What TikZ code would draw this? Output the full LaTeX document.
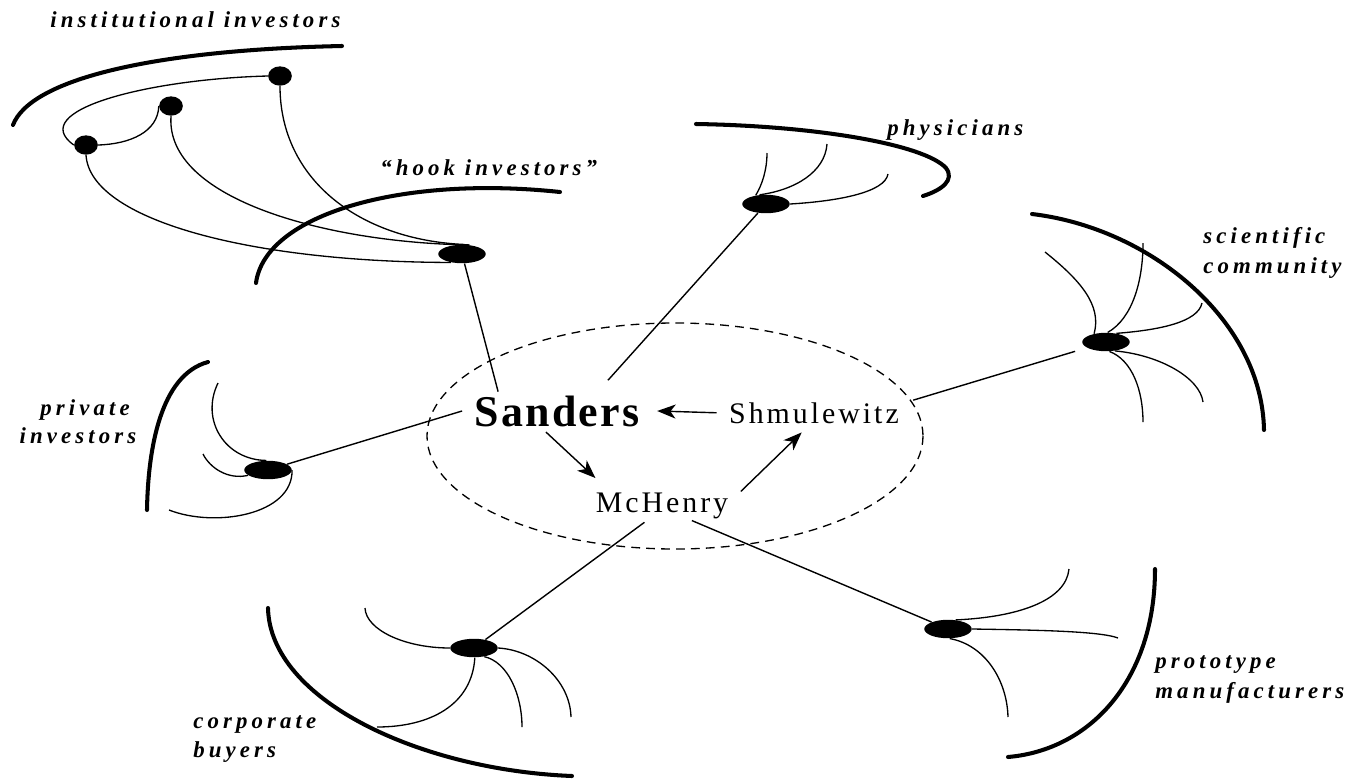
\documentclass[tikz,border=0pt]{standalone}
\usepackage{fontspec}
\setmainfont{Liberation Serif}
\newfontfamily\groupfont[LetterSpace=18]{Liberation Serif}
\newfontfamily\namefont[LetterSpace=10]{Liberation Serif}
\newfontfamily\bossfont[LetterSpace=5]{Liberation Serif}
\usetikzlibrary{arrows.meta}
\usetikzlibrary{shapes}

\begin{document}
\begin{tikzpicture}[x = 0.02cm, y = -0.02cm]
\tikzstyle{HubStyle}=[shape = ellipse,
                      fill,
                      minimum width = 27pt,
                      minimum height = 10.5pt,
                      inner sep = 0pt]
\tikzstyle{DotStyle}=[shape = ellipse, fill, minimum width = 13.5pt, minimum height = 11pt, inner sep = 0pt]
\tikzstyle{GroupStyle}=[font = \groupfont\bfseries\itshape\fontsize{13}{16}\selectfont, inner sep = 0pt]
\tikzstyle{NameStyle}=[font = \namefont\fontsize{17}{20}\selectfont, inner sep = 0pt]
\tikzstyle{BossStyle}=[font = \bossfont\bfseries\fontsize{25}{30}\selectfont, inner sep = 0pt]
\tikzstyle{EdgeStyle}=[line width = 0.8pt]
\tikzstyle{FiberStyle}=[line width = 0.75pt]
\tikzstyle{RimStyle}=[line width = 2.3pt, line cap = round]
\tikzstyle{ArrowStyle}=[line width = 0.8pt, -{Stealth[length = 10.5pt, width = 8pt, inset = 3pt]}]
\tikzstyle{CoreStyle}=[line width = 0.75pt, dash pattern = on 5pt off 3.5pt]

\useasboundingbox (0,0) rectangle (1353,778);

\node[BossStyle, anchor = base] (san) at (557,426) {Sanders};
\node[NameStyle, anchor = base] (shm) at (814,423) {Shmulewitz};
\node[NameStyle, anchor = base] (mch) at (662,512) {McHenry};
\draw[CoreStyle] (675,436) ellipse [x radius = 248, y radius = 113];
\draw[ArrowStyle] ([xshift = -7pt]shm.west) -- ([xshift = 10pt]san.east);
\draw[ArrowStyle] ([yshift = -3pt]san.235) -- ([yshift = 8pt]mch.north west);
\draw[ArrowStyle] ([xshift = 7pt, yshift = 8pt]mch.east) -- ([xshift = -7pt, yshift = -5pt]shm.south);

\node[HubStyle] (hook) at (462,254) {};
\node[HubStyle] (phys) at (766,204) {};
\node[HubStyle] (sci) at (1106,342) {};
\node[HubStyle] (priv) at (268,470) {};
\node[HubStyle] (corp) at (474,648) {};
\node[HubStyle] (proto) at (948,629) {};
\node[DotStyle] (d1) at (280,76) {};
\node[DotStyle] (d2) at (171,106) {};
\node[DotStyle] (d3) at (86,145) {};

\node[GroupStyle, anchor = base west] (instL) at (50,27) {institutional investors};
\node[GroupStyle, anchor = base west] (hookL) at (380,175) {“hook investors”};
\node[GroupStyle, anchor = base west] (physL) at (887,135) {physicians};
\node[GroupStyle, anchor = base west] (sciL1) at (1203,243) {scientific};
\node[GroupStyle, anchor = base west] (sciL2) at (1203,273) {community};
\node[GroupStyle, anchor = base] (privL1) at (85,415) {private};
\node[GroupStyle, anchor = base] (privL2) at (78,443) {investors};
\node[GroupStyle, anchor = base west] (corpL1) at (193,728) {corporate};
\node[GroupStyle, anchor = base west] (corpL2) at (193,757) {buyers};
\node[GroupStyle, anchor = base west] (protoL1) at (1155,668) {prototype};
\node[GroupStyle, anchor = base west] (protoL2) at (1155,698) {manufacturers};

\draw[RimStyle] (13,125) .. controls (30,80) and (150,50) .. (342,46);
\draw[RimStyle] (256,283) .. controls (265,215) and (400,175) .. (560,192);
\draw[RimStyle] (696,124) .. controls (820,126) and (925,145) .. (946,168) .. controls (955,180) and (942,190) .. (923,196);
\draw[RimStyle] (1032,214) .. controls (1150,228) and (1262,320) .. (1264,430);
\draw[RimStyle] (208,362) .. controls (160,375) and (148,450) .. (147,510);
\draw[RimStyle] (268,608) .. controls (270,700) and (420,770) .. (572,776);
\draw[RimStyle] (1155,569) .. controls (1155,680) and (1090,750) .. (1008,757);

\draw[FiberStyle] (d1.west) .. controls (150,79) and (25,110) .. (d3.west);
\draw[FiberStyle] (d3.east) .. controls (130,144) and (158,132) .. (d2.west);
\draw[FiberStyle] (d3.south) .. controls (90,220) and (250,262) .. (hook.217);
\draw[FiberStyle] (d2.south) .. controls (165,200) and (330,243) .. (hook.50);
\draw[FiberStyle] (d1.south) .. controls (280,180) and (360,240) .. (hook.75);

\draw[FiberStyle] (phys.140) .. controls (762,185) and (767,170) .. (767,153);
\draw[FiberStyle] (phys.125) .. controls (795,190) and (825,172) .. (827,144);
\draw[FiberStyle] (phys.east) .. controls (840,201) and (885,192) .. (888,174);
\draw[FiberStyle] (sci.145) .. controls (1102,305) and (1080,280) .. (1045,252);
\draw[FiberStyle] (sci.80) .. controls (1133,318) and (1143,280) .. (1143,243);
\draw[FiberStyle] (sci.40) .. controls (1160,330) and (1198,322) .. (1202,303);
\draw[FiberStyle] (sci.315) .. controls (1160,355) and (1200,378) .. (1203,402);
\draw[FiberStyle] (sci.290) .. controls (1132,360) and (1143,390) .. (1143,422);
\draw[FiberStyle] (priv.100) .. controls (225,460) and (200,420) .. (218,383);
\draw[FiberStyle] (priv.195) .. controls (228,480) and (210,468) .. (203,454);
\draw[FiberStyle] (priv.east) .. controls (293,515) and (215,528) .. (169,510);
\draw[FiberStyle] (corp.west) .. controls (405,648) and (366,630) .. (365,608);
\draw[FiberStyle] (corp.east) .. controls (535,650) and (570,680) .. (571,717);
\draw[FiberStyle] (corp.320) .. controls (508,662) and (522,695) .. (522,727);
\draw[FiberStyle] (corp.275) .. controls (472,705) and (430,727) .. (377,727);
\draw[FiberStyle] (proto.50) .. controls (1020,617) and (1066,600) .. (1069,569);
\draw[FiberStyle] (proto.east) .. controls (1033,630) and (1100,631) .. (1118,638);
\draw[FiberStyle] (proto.280) .. controls (985,645) and (1007,680) .. (1008,717);

\draw[EdgeStyle] (hook) -- ([xshift = 13.5pt, yshift = 2pt]san.north west);
\draw[EdgeStyle] (phys) -- ([xshift = -18pt, yshift = 8.5pt]san.north east);
\draw[EdgeStyle] (priv) -- ([xshift = -7pt]san.west);
\draw[EdgeStyle, shorten < = 7pt] (sci) -- ([xshift = 8pt, yshift = 1pt]shm.north east);
\draw[EdgeStyle] (corp) -- ([xshift = -10pt, yshift = -2pt]mch.south);
\draw[EdgeStyle] (proto) -- ([xshift = 17pt, yshift = -1pt]mch.south);
\end{tikzpicture}
\end{document}
